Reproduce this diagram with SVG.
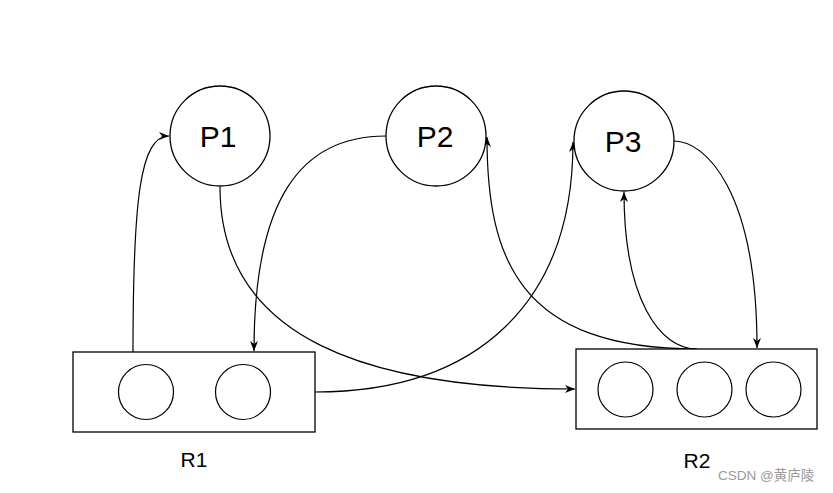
<svg xmlns="http://www.w3.org/2000/svg" width="833" height="493" viewBox="0 0 833 493">
  <defs>
    <style>
      .node { fill: #ffffff; stroke: #000000; stroke-width: 1.3; }
      .slot { fill: #ffffff; stroke: #000000; stroke-width: 1.2; }
      .edge { fill: none; stroke: #000000; stroke-width: 1.2; marker-end: url(#arrow); }
      .plabel { font-family: "Liberation Sans", Arial, sans-serif; font-size: 30px; fill: #000000; text-anchor: middle; }
      .rlabel { font-family: "Liberation Sans", Arial, sans-serif; font-size: 21px; fill: #000000; text-anchor: middle; }
      .wm { font-family: "Liberation Sans", Arial, "Noto Sans CJK SC", sans-serif; font-size: 13.5px; fill: #9a9a9a; }
    </style>
    <marker id="arrow" viewBox="0 0 10 10" refX="10" refY="5" markerWidth="10" markerHeight="10" markerUnits="userSpaceOnUse" orient="auto">
      <path d="M0,1 L10,5 L0,9 L3,5 Z" fill="#000000"/>
    </marker>
  </defs>
  <rect width="833" height="493" fill="#ffffff"/>

  <g id="connectors">
    <path class="edge" d="M133,352 C133,200 140,136 169,136"/>
    <path class="edge" d="M220,187 C220,340 370,389 575,389"/>
    <path class="edge" d="M386,136 C300,136 254,200 254,351"/>
    <path class="edge" d="M315,392 C480,392 573,300 573,142"/>
    <path class="edge" d="M697,349 C520,349 487,260 487,137"/>
    <path class="edge" d="M697,349 C660,349 624,300 624,192"/>
    <path class="edge" d="M674,141 C705,141 757,190 757,348"/>
  </g>

  <g id="P1">
    <circle class="node" cx="220" cy="136" r="50"/>
    <text class="plabel" x="218" y="147">P1</text>
  </g>
  <g id="P2">
    <circle class="node" cx="436" cy="136" r="50"/>
    <text class="plabel" x="435" y="147">P2</text>
  </g>
  <g id="P3">
    <circle class="node" cx="624" cy="141" r="50"/>
    <text class="plabel" x="623" y="152">P3</text>
  </g>

  <g id="R1">
    <rect class="node" x="73" y="352" width="242" height="80"/>
    <circle class="slot" cx="146" cy="392" r="27.5"/>
    <circle class="slot" cx="243" cy="392" r="27.5"/>
    <text class="rlabel" x="194" y="467">R1</text>
  </g>
  <g id="R2">
    <rect class="node" x="576" y="349" width="241" height="80"/>
    <circle class="slot" cx="625.5" cy="389.5" r="27.5"/>
    <circle class="slot" cx="704.5" cy="389.5" r="27.5"/>
    <circle class="slot" cx="773.5" cy="389.5" r="27.5"/>
    <text class="rlabel" x="697" y="468">R2</text>
  </g>

  <text class="wm" x="718" y="480">CSDN @黄庐陵</text>
</svg>
